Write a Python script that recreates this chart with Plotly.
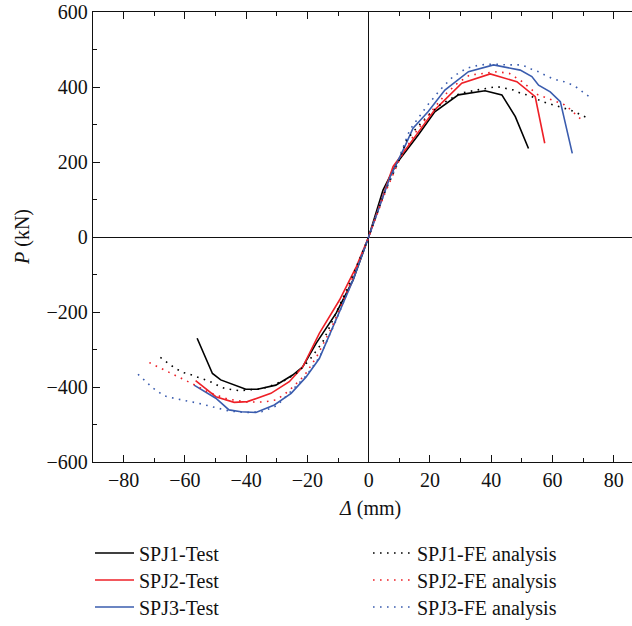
import plotly.graph_objects as go

# ---- data ----
spj1_test_x = [-56, -51, -48.3, -40.1, -36.3, -30.3, -24.8, -21.5, -17.1, -10.6, -5.1, 0,
               4.7, 7.4, 9.1, 16.2, 21.6, 29.3, 38, 43.5, 47.9, 52.2]
spj1_test_y = [-270, -364, -381, -406, -406, -395, -368, -346, -283, -203, -115, 0,
               125, 170, 196, 272, 334, 379, 390, 379, 321, 236]

spj2_test_x = [-56.5, -49.9, -43.9, -39.6, -31.9, -25.9, -21.5, -16.1, -9.5, -4, 0,
               8, 15.1, 21.6, 30.4, 39.7, 48.4, 54.4, 57.5]
spj2_test_y = [-383, -426, -441, -439, -417, -386, -346, -257, -168, -79, 0,
               188, 267, 339, 410, 435, 414, 374, 250]

spj3_test_x = [-57, -49.9, -45.6, -41.7, -36.8, -30.8, -25.3, -20.4, -16.1, -10.6, -5.1, 0,
               7, 11.8, 14.5, 19.4, 24.9, 32.6, 40.8, 49.5, 53.3, 55.5, 59.3, 62.6, 66.5]
spj3_test_y = [-395, -430, -461, -466, -468, -448, -417, -373, -324, -221, -115, 0,
               160, 241, 290, 334, 392, 441, 459, 445, 428, 405, 387, 361, 223]

spj1_fe_x = [-68, -66.3, -64.4, -62.5, -60.7, -58.5, -56.5, -54.5, -52.5, -50.5, -48.6, -46.4,
             -44.3, -42, -39.9, -35, -31.4, -27, -23, -19.3, -15, -11.7, -6, 0,
             5, 10, 12.4, 15.6, 19.5, 23.3, 29.8, 35.3, 41.9, 47.3, 50, 52.4, 56.4, 58.7,
             60.8, 63, 65.2, 67.3, 69.3, 71.5]
spj1_fe_y = [-321, -332, -343, -353, -361, -366, -371, -378, -383, -390, -399, -405,
             -408, -410, -408, -405, -395, -381, -360, -328, -280, -221, -120, 0,
             115, 205, 259, 290, 325, 352, 383, 392, 401, 392, 382, 378, 362, 356,
             351, 347, 340, 334, 326, 317]

spj2_fe_x = [-71.6, -69.6, -67.6, -65.8, -63.8, -61.9, -59.8, -57.9, -52, -46, -40, -34, -30,
             -26, -21, -17, -12, -6, 0,
             5, 10, 15, 20, 25, 29, 33, 37.5, 42, 46, 50, 51.8, 53.6, 55.3, 57.5, 59.8,
             61.9, 63.9, 65.6, 67.5, 69.2]
spj2_fe_y = [-335, -343, -350, -357, -365, -373, -381, -390, -415, -432, -440, -440, -434,
             -410, -370, -320, -240, -125, 0,
             110, 205, 275, 330, 380, 410, 432, 436, 441, 436, 415, 403, 390, 379, 373, 366,
             359, 353, 342, 329, 315]

spj3_fe_x = [-75.3, -73.7, -72, -70.4, -68.5, -66.9, -64.7, -62.5, -60.6, -58.4, -56.2, -54.1,
             -51.9, -49.7, -47.8, -45.6, -40, -35, -30, -25.9, -20.4, -16, -11, -5.5, 0,
             5, 9, 13.4, 18.9, 23.3, 27.6, 32, 36.4, 40.8, 45.1, 49.5, 51.3, 53.3, 55.5,
             57.5, 59.6, 61.8, 63.9, 66.1, 68.1, 69.9, 71.9]
spj3_fe_y = [-366, -379, -391, -403, -414, -423, -428, -432, -437, -439, -442, -446,
             -450, -455, -459, -464, -468, -466, -450, -417, -370, -320, -230, -120, 0,
             115, 190, 285, 348, 392, 428, 450, 459, 461, 459, 459, 455, 447, 441,
             432, 424, 418, 414, 407, 398, 387, 375]

names = ["SPJ1-Test", "SPJ2-Test", "SPJ3-Test",
         "SPJ1-FE analysis", "SPJ2-FE analysis", "SPJ3-FE analysis"]

x_tickvals = [-80, -60, -40, -20, 0, 20, 40, 60, 80]
x_ticktext = ["\u221280", "\u221260", "\u221240", "\u221220", "0", "20", "40", "60", "80"]
y_tickvals = [-600, -400, -200, 0, 200, 400, 600]
y_ticktext = ["\u2212600", "\u2212400", "\u2212200", "0", "200", "400", "600"]

BLACK = "#000000"
RED = "#ee2027"
BLUE = "#3a5cae"
FONT = "Liberation Serif"
FS = 20
TXT = "#111111"

W, H = 632, 626
ML, MR, MT, MB = 93, 0, 12, 164
PW, PH = W - ML - MR, H - MT - MB


def px_x(px):
    return (px - ML) / PW


def px_y(py):
    return (H - MB - py) / PH


fig = go.Figure()
series = [
    (spj1_test_x, spj1_test_y, BLACK, "solid", "legend"),
    (spj2_test_x, spj2_test_y, RED, "solid", "legend2"),
    (spj3_test_x, spj3_test_y, BLUE, "solid", "legend3"),
    (spj1_fe_x, spj1_fe_y, BLACK, "1.6px,5.4px", "legend4"),
    (spj2_fe_x, spj2_fe_y, RED, "1.6px,5.4px", "legend5"),
    (spj3_fe_x, spj3_fe_y, BLUE, "1.6px,5.4px", "legend6"),
]
for (xs, ys, col, dash, lg), name in zip(series, names):
    fig.add_trace(go.Scatter(x=xs, y=ys, mode="lines", name=name,
                             line=dict(color=col, width=1.6, dash=dash),
                             legend=lg))

rows_y = [553, 580, 607]
legends = {}
for i, key in enumerate(["legend", "legend2", "legend3"]):
    legends[key] = dict(x=px_x(90), y=px_y(rows_y[i]), xanchor="left", yanchor="middle",
                        font=dict(family=FONT, size=FS, color=TXT), itemwidth=39,
                        bgcolor="rgba(0,0,0,0)", borderwidth=0)
for i, key in enumerate(["legend4", "legend5", "legend6"]):
    legends[key] = dict(x=px_x(368), y=px_y(rows_y[i]), xanchor="left", yanchor="middle",
                        font=dict(family=FONT, size=FS, color=TXT), itemwidth=39,
                        bgcolor="rgba(0,0,0,0)", borderwidth=0)

fig.update_layout(
    width=W, height=H,
    margin=dict(l=ML, r=MR, t=MT, b=MB, autoexpand=False),
    paper_bgcolor="white", plot_bgcolor="white",
    font=dict(family=FONT, size=FS, color=TXT),
    showlegend=True,
    annotations=[
        dict(text="<i>\u0394</i> (mm)", xref="paper", yref="paper",
             x=px_x(370), y=px_y(508), xanchor="center", yanchor="middle",
             showarrow=False, font=dict(family=FONT, size=FS, color=TXT)),
        dict(text="<i>P</i> (kN)", xref="paper", yref="paper",
             x=px_x(22), y=px_y(237), xanchor="center", yanchor="middle",
             textangle=-90, showarrow=False, font=dict(family=FONT, size=FS, color=TXT)),
    ],
    **legends,
)

fig.update_xaxes(
    range=[-90, 86], tickvals=x_tickvals, ticktext=x_ticktext,
    ticks="inside", ticklen=7, tickwidth=1.3, tickcolor=TXT,
    minor=dict(dtick=10, ticks="inside", ticklen=4, tickwidth=1.2, tickcolor=TXT),
    showline=True, linecolor=TXT, linewidth=1.3, mirror="ticks",
    showgrid=False, zeroline=True, zerolinecolor=TXT, zerolinewidth=1.3,
    tickfont=dict(family=FONT, size=FS, color=TXT), automargin=False,
)
fig.update_yaxes(
    range=[-600, 600], tickvals=y_tickvals, ticktext=y_ticktext,
    ticks="inside", ticklen=7, tickwidth=1.3, tickcolor=TXT,
    minor=dict(dtick=100, ticks="inside", ticklen=4, tickwidth=1.2, tickcolor=TXT),
    showline=True, linecolor=TXT, linewidth=1.3, mirror=False,
    showgrid=False, zeroline=True, zerolinecolor=TXT, zerolinewidth=1.3,
    tickfont=dict(family=FONT, size=FS, color=TXT), automargin=False,
)

fig.write_html("out.html", config={"displayModeBar": False},
               post_script="document.body.style.margin='0';document.body.style.overflow='hidden';")
